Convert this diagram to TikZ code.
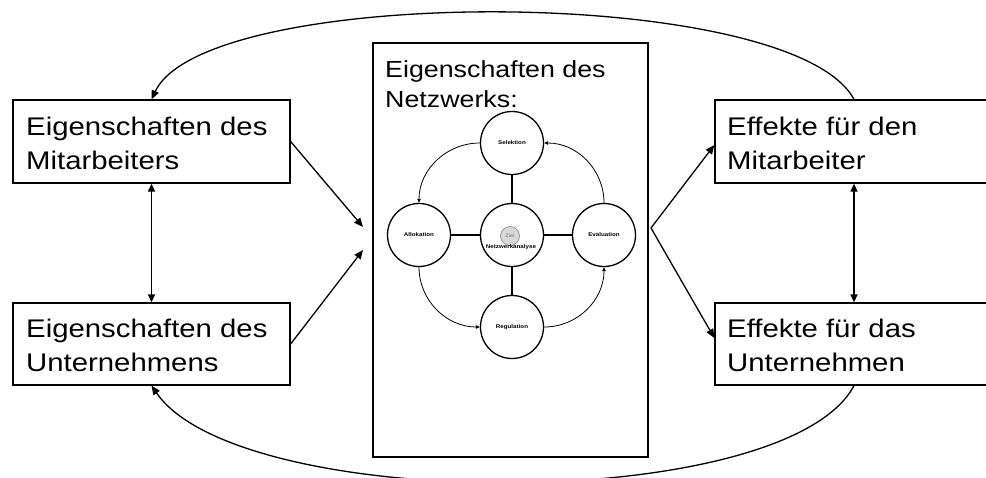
\documentclass[tikz,border=0pt]{standalone}
\usepackage{fontspec}
\setmainfont{Liberation Sans}[FakeStretch=1.15]
\usetikzlibrary{arrows.meta,calc}
\begin{document}
\begin{tikzpicture}[x=1pt,y=-1pt,
  box/.style={draw,line width=1.3pt,rectangle,inner sep=0pt},
  bigtxt/.style={anchor=base west,inner sep=0pt,font=\fontsize{25.5}{30}\selectfont},
  titletxt/.style={anchor=base west,inner sep=0pt,font=\fontsize{23.3}{28}\selectfont},
  stage/.style={draw,circle,line width=1.3pt,minimum size=63pt,inner sep=0pt,
                font=\bfseries\fontsize{5.4}{6}\selectfont},
  conn/.style={line width=1.3pt},
  bigtip/.style={-{Triangle[length=9pt,width=7.5pt]}},
  bothtips/.style={{Triangle[length=8pt,width=7pt]}-{Triangle[length=8pt,width=7pt]}},
  cycle/.style={line width=0.8pt,-{Triangle[length=4pt,width=3.5pt]}},
  spoke/.style={line width=1.8pt}]
\useasboundingbox (0,0) rectangle (986,477);
\clip (0,0) rectangle (986,477);

% left column: properties
\node[box,minimum width=277pt,minimum height=83pt] (ma) at (151.5,141.5) {};
\node[box,minimum width=277pt,minimum height=82pt] (un) at (151.5,344) {};
\node[bigtxt] (ma1) at (26,135) {Eigenschaften des};
\node[bigtxt] (ma2) at (26,169) {Mitarbeiters};
\node[bigtxt] (un1) at (26,337) {Eigenschaften des};
\node[bigtxt] (un2) at (26,371) {Unternehmens};

% right column: effects
\node[box,minimum width=278pt,minimum height=83pt] (fm) at (854,141.5) {};
\node[box,minimum width=278pt,minimum height=82pt] (fu) at (854,344) {};
\node[bigtxt] (fm1) at (727,135) {Effekte für den};
\node[bigtxt] (fm2) at (727,169) {Mitarbeiter};
\node[bigtxt] (fu1) at (727,337) {Effekte für das};
\node[bigtxt] (fu2) at (727,371) {Unternehmen};

% centre: network properties
\node[box,minimum width=275pt,minimum height=414pt] (net) at (510.5,250) {};
\node[titletxt] (nt1) at (385,77) {Eigenschaften des};
\node[titletxt] (nt2) at (385,107) {Netzwerks:};

% network analysis cycle
\node[stage] (C) at (512,235) {};
\node[stage] (S) at (512,143) {Selektion};
\node[stage] (A) at (419,235) {Allokation};
\node[stage] (E) at (604,235) {Evaluation};
\node[stage] (R) at (512,327) {Regulation};
\node[circle,draw=black!50,fill=black!15,line width=0.6pt,minimum size=19pt,inner sep=0pt,
      text=black!55,font=\fontsize{5}{6}\selectfont] (Z) at (510,236) {Ziel};
\node[inner sep=0pt,font=\bfseries\fontsize{5.4}{6}\selectfont] (ZN) at (511,247.5) {Netzwerkanalyse};

\draw[spoke] (C.north) -- (S.south);
\draw[spoke] (C.south) -- (R.north);
\draw[spoke] (C.west) -- (A.east);
\draw[spoke] (C.east) -- (E.west);

\draw[cycle] (S.west) to[out=180,in=90] (A.north);
\draw[cycle] (A.south) to[out=270,in=180] (R.west);
\draw[cycle] (R.east) to[out=0,in=270] (E.south);
\draw[cycle] (E.north) to[out=90,in=0] (S.east);

% connectors between the columns
\coordinate (inA) at (363,227);
\coordinate (inB) at (363,250);
\coordinate (outC) at (651,228);
\draw[conn,bigtip] (ma.east) -- (inA);
\draw[conn,bigtip] (un.east) -- (inB);
\draw[conn,bigtip] (outC) -- ($(fm.west)+(0,3.5)$);
\draw[conn,bigtip] (outC) -- ($(fu.west)+(0,-6)$);
\draw[conn,bothtips] (ma.south) -- (un.north);
\draw[conn,bothtips] (fm.south) -- (fu.north);

% feedback loops
\draw[conn,bigtip] (fm.north) .. controls (792,-16) and (206,-16) .. (ma.north);
\draw[conn,bigtip] (fu.south) .. controls (786,514) and (240,514) .. (un.south);
\end{tikzpicture}
\end{document}
